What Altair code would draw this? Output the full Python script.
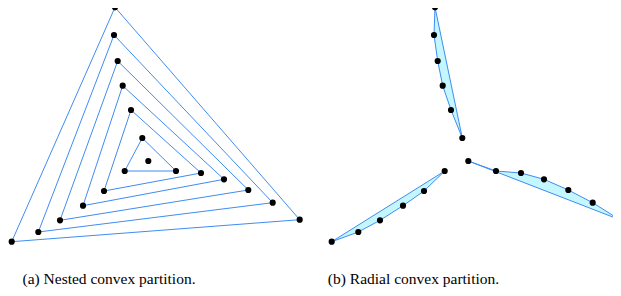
import altair as alt
import pandas as pd

# Point set (panel (a) coordinates in px)
top_x = [115.0, 114.0, 117.7, 122.7, 131.0, 142.3]
top_y = [7.3, 35.0, 61.0, 85.7, 110.0, 138.0]
left_x = [11.7, 38.3, 60.0, 83.0, 104.0, 124.7]
left_y = [241.7, 232.0, 220.3, 205.7, 191.0, 171.0]
right_x = [299.7, 272.7, 248.3, 224.0, 201.0, 176.0]
right_y = [219.7, 202.7, 190.0, 179.3, 173.0, 171.0]
center_x = [148.3]
center_y = [161.0]

panel_offset = {"a": 0.0, "b": 320.0}
captions = ["(a)  Nested convex partition.", "(b)  Radial convex partition."]
caption_x = [109.0, 413.5]
caption_y = [283.5, 283.5]

BLUE = "#3f8cf2"
FILL = "#c4f6fd"

all_x = top_x + left_x + right_x + center_x
all_y = top_y + left_y + right_y + center_y

pts = pd.DataFrame(
    [{"x": x + off, "y": y} for off in panel_offset.values() for x, y in zip(all_x, all_y)]
)

# Panel (a): nested triangles
tri_rows = []
for i in range(len(top_x)):
    verts = [(top_x[i], top_y[i]), (right_x[i], right_y[i]), (left_x[i], left_y[i])]
    for k, (x, y) in enumerate(verts):
        tri_rows.append({"g": f"t{i}", "k": k, "x": x + panel_offset["a"], "y": y})
tri = pd.DataFrame(tri_rows)

# Panel (b): three radial blades
blade_rows = []
off = panel_offset["b"]
for k in range(len(top_x)):
    blade_rows.append({"g": "top", "k": k, "x": top_x[k] + off, "y": top_y[k]})
for k in range(len(left_x)):
    blade_rows.append({"g": "left", "k": k, "x": left_x[k] + off, "y": left_y[k]})
rverts = [(center_x[0], center_y[0])] + list(zip(right_x[::-1], right_y[::-1]))
for k, (x, y) in enumerate(rverts):
    blade_rows.append({"g": "right", "k": k, "x": x + off, "y": y})
blades = pd.DataFrame(blade_rows)

cap = pd.DataFrame({"label": captions, "x": caption_x, "y": caption_y})

W, H = 605, 280
xs = alt.Scale(domain=[8, 8 + W], nice=False, zero=False)
ys = alt.Scale(domain=[8, 8 + H], nice=False, zero=False, reverse=True)
X = lambda: alt.X("x:Q", scale=xs, axis=None)
Y = lambda: alt.Y("y:Q", scale=ys, axis=None)

tri_layer = alt.Chart(tri).mark_line(
    interpolate="linear-closed", color=BLUE, strokeWidth=1
).encode(x=X(), y=Y(), detail="g:N", order="k:Q")

blade_layer = alt.Chart(blades).mark_line(
    interpolate="linear-closed", stroke=BLUE, fill=FILL, strokeWidth=1
).encode(x=X(), y=Y(), detail="g:N", order="k:Q")

pt_layer = alt.Chart(pts).mark_circle(size=38, color="black", opacity=1).encode(x=X(), y=Y())

cap_layer = alt.Chart(cap).mark_text(
    font="Liberation Serif", fontSize=15.5, color="black", align="center", baseline="alphabetic"
).encode(x=X(), y=Y(), text="label:N")

chart = (
    alt.layer(blade_layer, tri_layer, pt_layer, cap_layer)
    .properties(width=W, height=H, autosize=alt.AutoSizeParams(type="none"), padding=0)
    .configure_view(stroke=None)
)

chart.save("out.html", embed_options={"renderer": "svg", "actions": False})
